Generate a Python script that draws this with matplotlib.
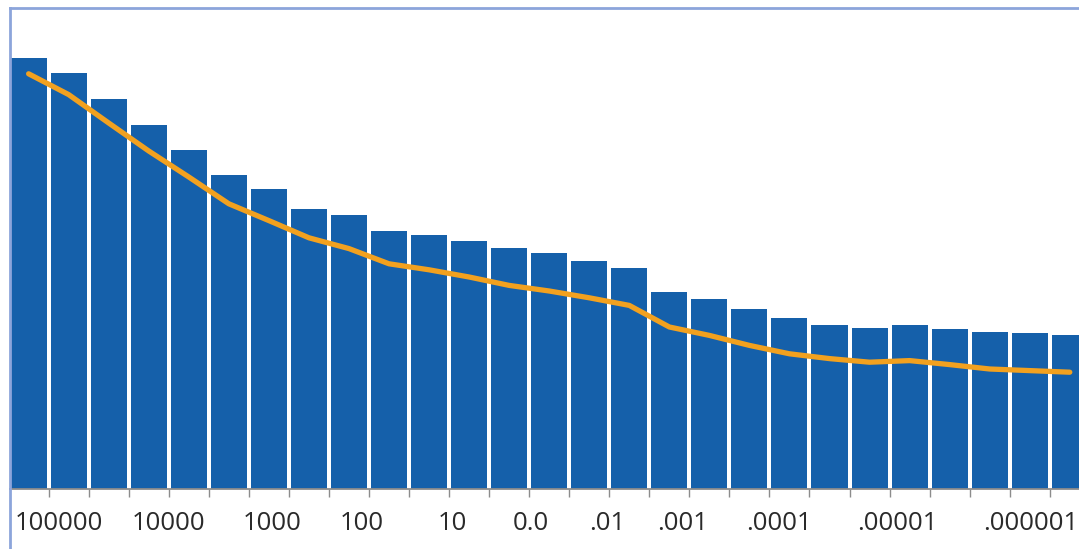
import matplotlib
matplotlib.use("Agg")
import matplotlib.pyplot as plt
from matplotlib.lines import Line2D
from matplotlib.transforms import blended_transform_factory

# ---- data (arbitrary linear units) ----
bar_values = [107.7, 104.05, 97.55, 91.1, 84.7, 78.6, 75.05, 69.9, 68.55,
              64.6, 63.6, 62.1, 60.3, 58.95, 57.05, 55.3, 49.2, 47.4, 44.9,
              42.7, 41.05, 40.2, 41.05, 39.9, 39.2, 38.9, 38.4]
line_values = [103.8, 98.6, 91.5, 84.5, 78.0, 71.3, 67.1, 62.8, 60.1,
               56.3, 54.8, 53.0, 50.9, 49.5, 47.8, 45.9, 40.5, 38.4, 35.9,
               33.8, 32.6, 31.7, 32.1, 31.1, 30.0, 29.6, 29.2]
tick_labels = ["100000", "10000", "1000", "100", "10", "0.0", ".01", ".001",
               ".0001", ".00001", ".000001"]
label_positions = [0.75, 3.50, 6.09, 8.32, 10.57, 12.53, 14.45, 16.33,
                   18.73, 21.69, 25.03]

BAR_COLOR = "#1560AA"
LINE_COLOR = "#F2A11F"
FRAME_COLOR = "#8CA5DB"
AXIS_COLOR = "#8C8C8C"

W, H = 1079, 549
fig = plt.figure(figsize=(W / 100, H / 100), dpi=100)
fig.patch.set_facecolor("white")

ax_left, ax_right, ax_bottom, ax_top = 10, 1079, 489, 8
ax = fig.add_axes([ax_left / W, (H - ax_bottom) / H,
                   (ax_right - ax_left) / W, (ax_bottom - ax_top) / H])

x = list(range(len(bar_values)))
ax.bar(x, bar_values, width=0.9, color=BAR_COLOR, zorder=2)
ax.plot(x, line_values, color=LINE_COLOR, lw=3.8, solid_capstyle="round",
        solid_joinstyle="round", zorder=3)

ax.set_xlim(-0.465, 26.23)
ax.set_ylim(0, 120.25)

for s in ["top", "right", "left"]:
    ax.spines[s].set_visible(False)
ax.spines["bottom"].set_color(AXIS_COLOR)
ax.spines["bottom"].set_linewidth(1.3)
ax.spines["bottom"].set_zorder(4)

ax.set_yticks([])
ax.set_xticks([i + 0.5 for i in range(len(bar_values) - 1)])
ax.set_xticklabels([])
ax.tick_params(axis="x", length=6, width=1.0, color=AXIS_COLOR, direction="out")

trans = blended_transform_factory(ax.transData, ax.transAxes)
label_y = (ax_bottom - 530) / (ax_bottom - ax_top)
for pos, lab in zip(label_positions, tick_labels):
    ax.text(pos, label_y, lab, transform=trans, ha="center", va="baseline",
            fontsize=18.5, family=["Open Sans", "DejaVu Sans"], color="#2a2a2a",
            clip_on=False)

# outer frame (left and top edges visible; right/bottom clipped in reference)
fig.add_artist(Line2D([10 / W, 10 / W], [0, (H - 8) / H], color=FRAME_COLOR,
                      lw=2.0, transform=fig.transFigure))
fig.add_artist(Line2D([10 / W, 1], [(H - 8) / H, (H - 8) / H], color=FRAME_COLOR,
                      lw=2.0, transform=fig.transFigure))

fig.savefig("out.png", dpi=100, facecolor="white")
